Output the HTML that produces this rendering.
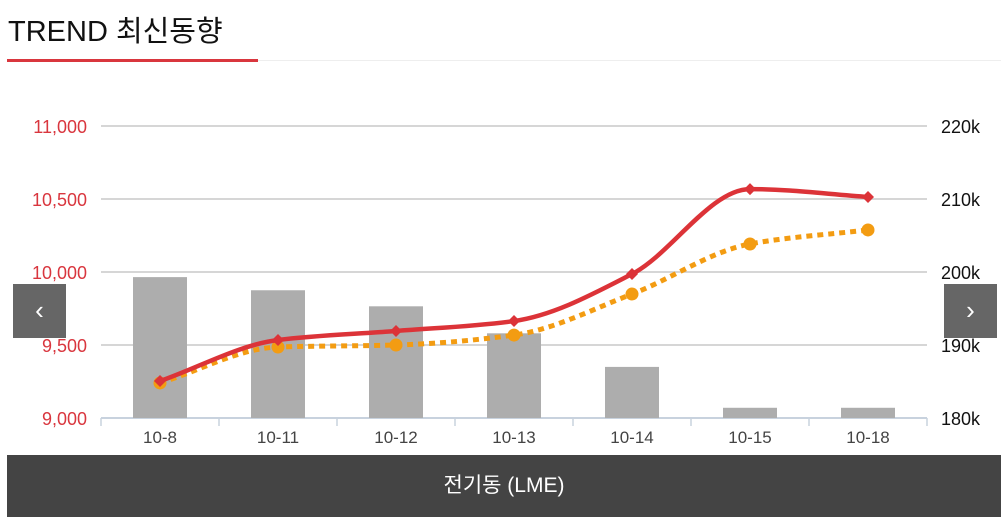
<!DOCTYPE html>
<html><head><meta charset="utf-8">
<style>
body{margin:0;width:1008px;height:521px;background:#fff;overflow:hidden;font-family:"Liberation Sans","Noto Sans CJK KR",sans-serif;position:relative}
.title{position:absolute;left:8px;top:8px;font-size:29px;color:#111}
.uline{position:absolute;left:7px;top:59px;width:251px;height:3px;background:#d9363e}
.gline{position:absolute;left:258px;top:60px;width:743px;height:1px;background:#eee}
.nav{position:absolute;top:284px;width:53px;height:54px;background:#666;color:#fff;font-size:26px;text-align:center;line-height:52px}
.foot{position:absolute;left:7px;top:455px;width:994px;height:62px;background:#444;color:#fff;font-size:21px;text-align:center;line-height:62px}
svg{position:absolute;left:0;top:0}
</style></head><body>
<div class="title">TREND 최신동향</div>
<div class="uline"></div>
<div class="gline"></div>
<svg id="chart" width="1008" height="521"></svg>
<div class="nav" style="left:13px">&#8249;</div>
<div class="nav" style="left:944px">&#8250;</div>
<div class="foot">전기동 (LME)</div>
<script>
const categories=["10-8","10-11","10-12","10-13","10-14","10-15","10-18"];
const barValues=[199.3,197.5,195.3,191.6,187.0,181.4,181.4];
const redValues=[9253,9534,9596,9664,9986,10568,10514];
const orangeValues=[9240,9486,9500,9568,9849,10192,10288];
const leftTicks=[9000,9500,10000,10500,11000];
const rightTicks=[180,190,200,210,220];
const svg=document.getElementById('chart');
const NS='http://www.w3.org/2000/svg';
const L=101,R=927,T=126,B=418,bw=(R-L)/categories.length;
const x=i=>L+bw*(i+0.5);
const yL=v=>B-(v-9000)/2000*(B-T);
const yR=v=>B-(v-180)/40*(B-T);
function mk(tag,attrs){const e=document.createElementNS(NS,tag);for(const k in attrs)e.setAttribute(k,attrs[k]);svg.appendChild(e);return e;}
leftTicks.forEach((t,i)=>{
 const g=mk('line',{x1:L,x2:R,y1:yL(t),y2:yL(t),stroke:i==0?'#c8d2de':'#c8c8c8','stroke-width':i==0?2:1.5});
 
 const tx=mk('text',{x:87,y:yL(t)+7,'text-anchor':'end','font-size':18,fill:'#d9363e'});tx.textContent=t.toLocaleString('en-US');
 
});
rightTicks.forEach(t=>{
 const tx=mk('text',{x:941,y:yR(t)+7,'font-size':18,fill:'#111'});tx.textContent=t+'k';
 
});
for(let i=0;i<=categories.length;i++){const l=mk('line',{x1:L+bw*i,x2:L+bw*i,y1:B,y2:B+8,stroke:'#c8d2de','stroke-width':1.5});}
categories.forEach((c,i)=>{
 const b=mk('rect',{x:x(i)-27,y:yR(barValues[i]),width:54,height:B-yR(barValues[i]),fill:'#adadad'});
 
 const tx=mk('text',{x:x(i),y:443,'text-anchor':'middle','font-size':17,fill:'#444'});tx.textContent=c;
 
});
function smooth(vals){
 const p=vals.map((v,i)=>[x(i),yL(v)]);const n=p.length;const d=[],m=[];
 for(let i=0;i<n-1;i++)d.push((p[i+1][1]-p[i][1])/(p[i+1][0]-p[i][0]));
 m[0]=d[0];m[n-1]=d[n-2];
 for(let i=1;i<n-1;i++)m[i]=d[i-1]*d[i]<=0?0:2/(1/d[i-1]+1/d[i]);
 let s='M'+p[0][0]+','+p[0][1];
 for(let i=0;i<n-1;i++){const h=(p[i+1][0]-p[i][0])/3;
 s+=' C'+(p[i][0]+h)+','+(p[i][1]+m[i]*h)+' '+(p[i+1][0]-h)+','+(p[i+1][1]-m[i+1]*h)+' '+p[i+1][0]+','+p[i+1][1];}
 return s;}
const ol=mk('path',{d:smooth(orangeValues),fill:'none',stroke:'#f39c12','stroke-width':5,'stroke-dasharray':'6,5'});

orangeValues.forEach((v,i)=>{const c=mk('circle',{cx:x(i),cy:yL(v),r:6.5,fill:'#f39c12'});});
const rl=mk('path',{d:smooth(redValues),fill:'none',stroke:'#dc3338','stroke-width':4.5});

redValues.forEach((v,i)=>{const X=x(i),Y=yL(v);const c=mk('polygon',{points:`${X},${Y-6} ${X+6},${Y} ${X},${Y+6} ${X-6},${Y}`,fill:'#dc3338'});});
</script>
</body></html>
